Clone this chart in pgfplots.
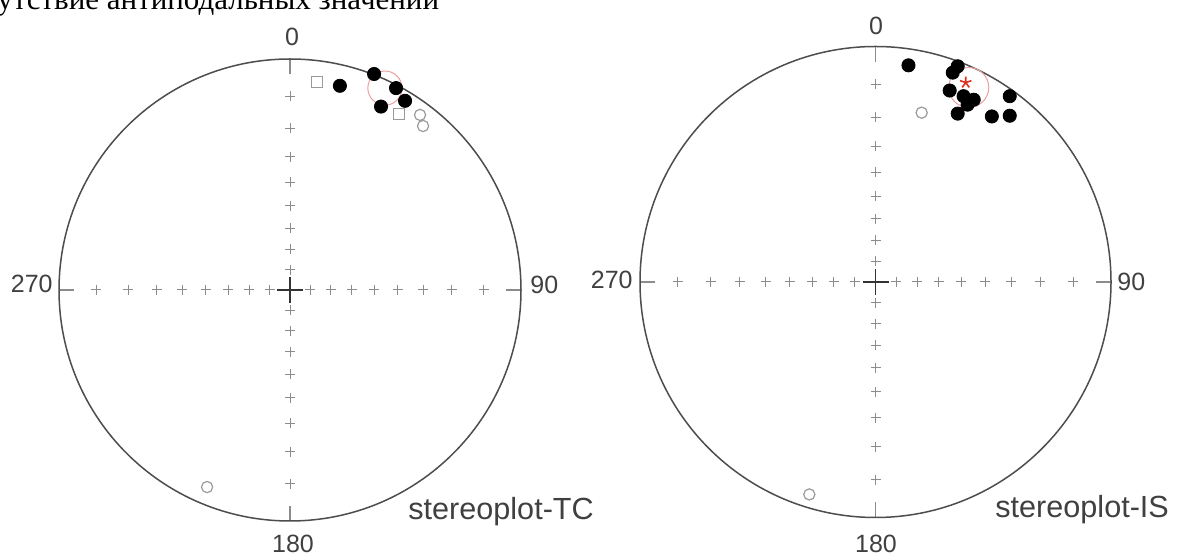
\documentclass[border=0pt]{standalone}
\usepackage{pgfplots}
\pgfplotsset{compat=1.18}
\usepackage{fontspec}
\setmainfont{Liberation Sans}
\newfontfamily\serifcyr{Liberation Serif}
\definecolor{tickgray}{HTML}{8C8C8C}
\definecolor{rimgray}{HTML}{4D4D4D}
\definecolor{opengray}{HTML}{9A9A9A}
\definecolor{confred}{HTML}{E8A0A0}
\definecolor{starred}{HTML}{E03020}
\pgfplotsset{
  stereo/.style={scale only axis, xmin=-1, xmax=1, ymin=-1, ymax=1,
    axis lines=none, clip=false, anchor=center},
}
\newcommand{\netticks}{%
  \addplot[only marks, mark=+, mark size=2.5pt, tickgray, line width=0.5pt] coordinates {
    (-0.8391,0) (-0.7002,0) (-0.5774,0) (-0.4663,0) (-0.3640,0) (-0.2679,0) (-0.1763,0) (-0.0875,0)
    (0.8391,0) (0.7002,0) (0.5774,0) (0.4663,0) (0.3640,0) (0.2679,0) (0.1763,0) (0.0875,0)
    (0,-0.8391) (0,-0.7002) (0,-0.5774) (0,-0.4663) (0,-0.3640) (0,-0.2679) (0,-0.1763) (0,-0.0875)
    (0,0.8391) (0,0.7002) (0,0.5774) (0,0.4663) (0,0.3640) (0,0.2679) (0,0.1763) (0,0.0875)};
  \addplot[only marks, mark=+, mark size=6.5pt, black!80, line width=0.7pt] coordinates {(0,0)};
  \draw[tickgray, line width=0.6pt] (axis cs:1,0) -- (axis cs:0.935,0)
     (axis cs:-1,0) -- (axis cs:-0.935,0) (axis cs:0,1) -- (axis cs:0,0.935)
     (axis cs:0,-1) -- (axis cs:0,-0.935);
  \draw[rimgray, line width=0.75pt] (axis cs:0,0) circle[radius=1];
}
\begin{document}
\begin{tikzpicture}
\useasboundingbox (0,0) rectangle (589pt,278pt);
\node[anchor=base west, inner sep=0pt, font=\serifcyr\fontsize{15.5pt}{17pt}\selectfont] at (-1.5pt,273pt) {утствие антиподальных значений};
% left net
\begin{axis}[stereo, at={(145pt,133pt)}, width=231pt, height=231pt]
\netticks
\draw[confred, line width=0.5pt] (axis cs:0.411,0.874) circle[radius=0.074];
\addplot[only marks, mark=*, mark size=3.3pt, black] coordinates {
  (0.216,0.884) (0.364,0.935) (0.459,0.874) (0.498,0.819) (0.394,0.794)};
\addplot[only marks, mark=square, mark size=2.6pt, opengray, line width=0.6pt] coordinates {
  (0.117,0.900) (0.472,0.762)};
\addplot[only marks, mark=o, mark size=2.8pt, opengray, line width=0.6pt] coordinates {
  (0.563,0.758) (0.576,0.710) (-0.359,-0.853)};
\end{axis}
% right net
\begin{axis}[stereo, at={(437.75pt,137pt)}, width=235.5pt, height=235.5pt]
\netticks
\draw[confred, line width=0.5pt] (axis cs:0.396,0.826) circle[radius=0.085];
\addplot[only marks, mark=*, mark size=3.3pt, black] coordinates {
  (0.140,0.920) (0.349,0.916) (0.328,0.889) (0.315,0.813) (0.374,0.789)
  (0.417,0.774) (0.391,0.753) (0.349,0.715) (0.494,0.703) (0.570,0.706) (0.570,0.789)};
\addplot[only marks, mark=star, mark size=3pt, starred, line width=0.8pt] coordinates {(0.383,0.847)};
\addplot[only marks, mark=o, mark size=2.8pt, opengray, line width=0.6pt] coordinates {
  (0.196,0.719) (-0.281,-0.902)};
\end{axis}
% labels
\begin{scope}[every node/.style={inner sep=0pt, text=black!75, font=\fontsize{12.5pt}{14pt}\selectfont}]
\node at (146pt,259.75pt) {0};
\node[anchor=west] at (265pt,135.5pt) {90};
\node at (146.5pt,6pt) {180};
\node[anchor=east] at (26.5pt,136pt) {270};
\node at (438pt,265pt) {0};
\node[anchor=west] at (558.5pt,137pt) {90};
\node at (438pt,6pt) {180};
\node[anchor=east] at (316.5pt,138pt) {270};
\end{scope}
\node[anchor=base west, inner sep=0pt, text=black!75, font=\fontsize{15.3pt}{17pt}\selectfont] at (204pt,18pt) {stereoplot-TC};
\node[anchor=base west, inner sep=0pt, text=black!75, font=\fontsize{15.3pt}{17pt}\selectfont] at (497.5pt,19pt) {stereoplot-IS};
\end{tikzpicture}
\end{document}
